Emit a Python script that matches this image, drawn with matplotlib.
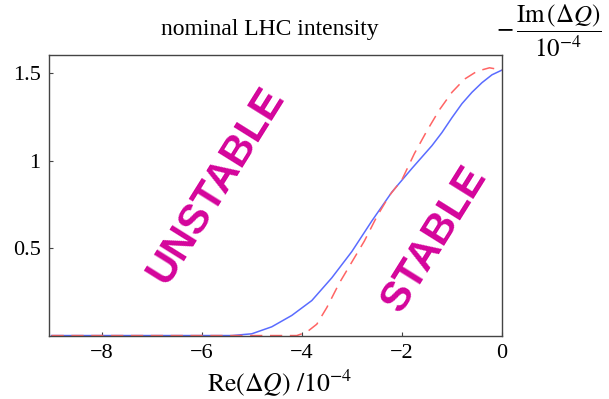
import matplotlib
matplotlib.use("Agg")
import matplotlib.pyplot as plt

blue_x = [-9.0, -5.4, -5.0, -4.6, -4.2, -3.8, -3.4, -3.0, -2.6, -2.2, -1.8, -1.6, -1.4, -1.2, -1.0, -0.8, -0.6, -0.4, -0.2, 0.0]
blue_y = [0.0, 0.0, 0.01, 0.05, 0.115, 0.20, 0.33, 0.48, 0.655, 0.82, 0.955, 1.02, 1.085, 1.16, 1.245, 1.325, 1.39, 1.445, 1.49, 1.517]

red_x = [-9.0, -4.1, -3.9, -3.7, -3.5, -3.25, -3.0, -2.75, -2.5, -2.25, -2.0, -1.75, -1.5, -1.25, -1.0, -0.75, -0.5, -0.25, 0.0]
red_y = [0.0, 0.0, 0.02, 0.065, 0.16, 0.30, 0.42, 0.54, 0.68, 0.80, 0.89, 1.04, 1.17, 1.29, 1.39, 1.465, 1.51, 1.53, 1.517]

x_ticks = [-8, -6, -4, -2, 0]
x_tick_labels = ["\u22128", "\u22126", "\u22124", "\u22122", "0"]
y_ticks = [0.5, 1.0, 1.5]
y_tick_labels = ["0.5", "1", "1.5"]

MAGENTA = "#d4049b"

plt.rcParams["font.family"] = ["Liberation Serif", "DejaVu Serif"]
plt.rcParams["mathtext.fontset"] = "stix"

fig = plt.figure(figsize=(6.09, 3.99), dpi=100)
ax = fig.add_axes([0.0805, 0.159, 0.7438, 0.704])

ax.plot(blue_x, blue_y, color="#5a6cff", lw=1.1)
ax.plot(red_x, red_y, color="#ff6464", lw=1.1, dashes=(8, 5))

ax.set_xlim(-9.05, 0)
ax.set_ylim(0, 1.605)
ax.set_xticks(x_ticks)
ax.set_xticklabels(x_tick_labels)
ax.set_yticks(y_ticks)
ax.set_yticklabels(y_tick_labels)
ax.tick_params(direction="in", length=3, width=0.8, labelsize=16, color="#444444", pad=6)
for side in ax.spines.values():
    side.set_color("#444444")
    side.set_linewidth(1.0)

ax.text(-5.7, 0.86, "UNSTABLE", rotation=58, ha="center", va="center",
        fontsize=30, fontweight="bold", color=MAGENTA, family="Liberation Sans")
ax.text(-1.34, 0.55, "STABLE", rotation=58, ha="center", va="center",
        fontsize=30, fontweight="bold", color=MAGENTA, family="Liberation Sans")

fig.text(270 / 609, 1 - 30 / 399, "nominal LHC intensity", ha="center", va="center", fontsize=17)
fig.text(280 / 609, 1 - 383 / 399, r"$\mathrm{Re}(\Delta Q)\ /10^{-4}$", ha="center", va="center", fontsize=18.5)
fig.text(496 / 609, 1 - 31 / 399, r"$-\,\dfrac{\mathrm{Im}\,(\Delta Q)}{10^{-4}}$", ha="left", va="center", fontsize=18)

fig.savefig("out.png", dpi=100)
